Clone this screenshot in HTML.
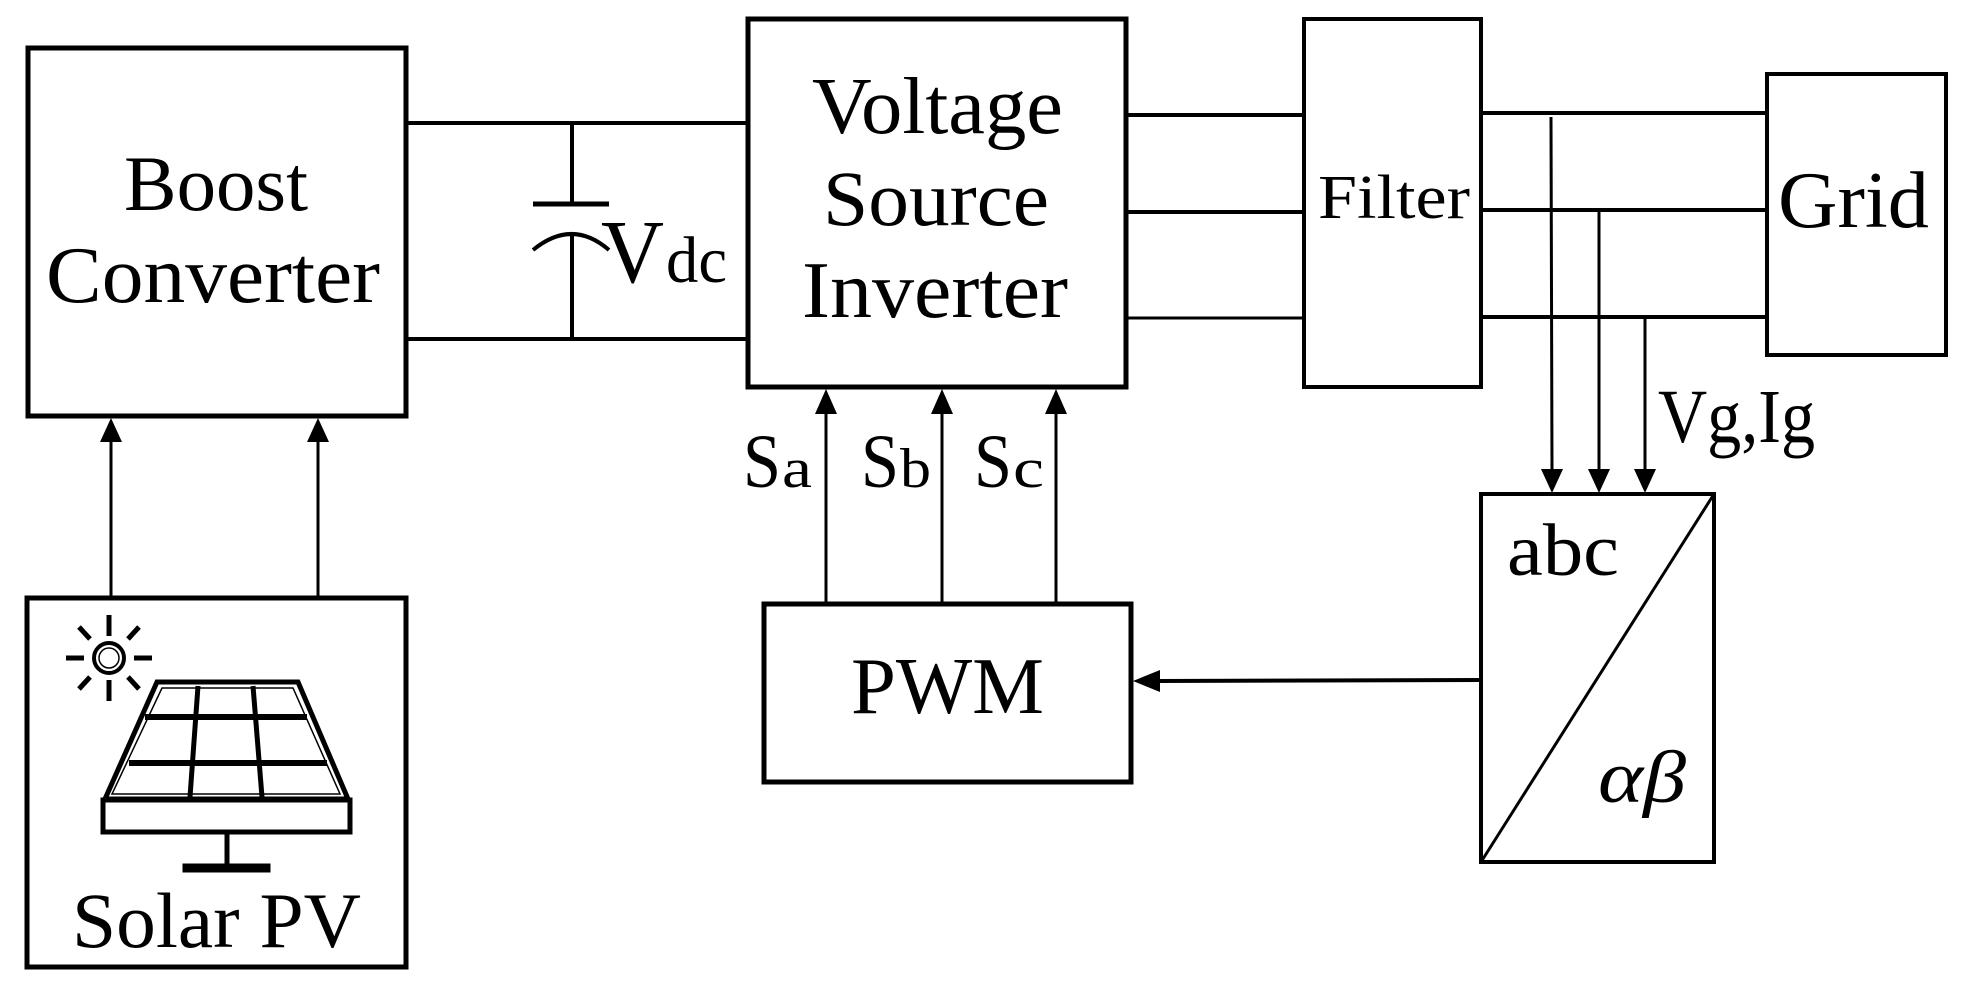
<!DOCTYPE html>
<html><head><meta charset="utf-8"><style>
html,body{margin:0;padding:0;background:#fff;}
svg{display:block;}
text{font-family:"Liberation Serif",serif;fill:#000;}
</style></head><body>
<svg width="1972" height="993" viewBox="0 0 1972 993" xmlns="http://www.w3.org/2000/svg">
<defs>
<marker id="ah" markerWidth="10" markerHeight="10" refX="10" refY="5" orient="auto" markerUnits="userSpaceOnUse"></marker>
</defs>
<g fill="none" stroke="#000">
<!-- boxes -->
<rect x="28" y="48" width="378" height="368" stroke-width="5"/>
<rect x="27" y="598" width="379" height="369" stroke-width="5"/>
<rect x="748" y="19" width="378" height="368" stroke-width="5"/>
<rect x="1304" y="19" width="177" height="368" stroke-width="4"/>
<rect x="1767" y="74" width="179" height="281" stroke-width="4"/>
<rect x="764" y="604" width="367" height="178" stroke-width="5"/>
<rect x="1481" y="494" width="233" height="368" stroke-width="4"/>
<line x1="1714" y1="494" x2="1481" y2="862" stroke-width="3"/>
<!-- DC bus -->
<line x1="406" y1="123" x2="748" y2="123" stroke-width="4"/>
<line x1="406" y1="339" x2="748" y2="339" stroke-width="4"/>
<line x1="572" y1="123" x2="572" y2="204" stroke-width="4"/>
<line x1="533" y1="204" x2="609" y2="204" stroke-width="5"/>
<path d="M533 250 Q572 218 609 250" stroke-width="4"/>
<line x1="572" y1="232" x2="572" y2="339" stroke-width="4"/>
<!-- VSI to filter -->
<line x1="1126" y1="115" x2="1304" y2="115" stroke-width="4"/>
<line x1="1126" y1="212" x2="1304" y2="212" stroke-width="4"/>
<line x1="1126" y1="318" x2="1304" y2="318" stroke-width="3"/>
<!-- filter to grid -->
<line x1="1481" y1="113" x2="1767" y2="113" stroke-width="4"/>
<line x1="1481" y1="210" x2="1767" y2="210" stroke-width="4"/>
<line x1="1481" y1="317" x2="1767" y2="317" stroke-width="4"/>
<!-- sense lines -->
<line x1="1551" y1="117" x2="1552" y2="472" stroke-width="3"/>
<line x1="1599" y1="212" x2="1599" y2="472" stroke-width="3"/>
<line x1="1645" y1="317" x2="1645" y2="472" stroke-width="3"/>
<!-- solar to boost -->
<line x1="111" y1="440" x2="111" y2="598" stroke-width="3"/>
<line x1="318" y1="440" x2="318" y2="598" stroke-width="3"/>
<!-- PWM to VSI -->
<line x1="826" y1="410" x2="826" y2="604" stroke-width="3"/>
<line x1="942" y1="410" x2="942" y2="604" stroke-width="3"/>
<line x1="1056" y1="410" x2="1056" y2="604" stroke-width="3"/>
<!-- transform to PWM -->
<line x1="1158" y1="681" x2="1481" y2="680" stroke-width="4"/>
</g>
<g fill="#000">
<polygon points="111,418 100,442 122,442"/>
<polygon points="318,418 307,442 329,442"/>
<polygon points="826,389 815,414 837,414"/>
<polygon points="942,389 931,414 953,414"/>
<polygon points="1056,389 1045,414 1067,414"/>
<polygon points="1552,493 1541,469 1563,469"/>
<polygon points="1599,493 1588,469 1610,469"/>
<polygon points="1645,493 1634,469 1656,469"/>
<polygon points="1133,681 1160,670 1160,692"/>
</g>
<!-- solar icon -->
<g stroke="#000" fill="none">
<ellipse cx="109" cy="658" rx="15" ry="15" stroke-width="4"/>
<ellipse cx="109" cy="658" rx="10" ry="10" stroke-width="1.5"/>
<g stroke-width="5">
<line x1="109" y1="615" x2="109" y2="636"/>
<line x1="109" y1="680" x2="109" y2="701"/>
<line x1="66" y1="658" x2="84" y2="658"/>
<line x1="134" y1="658" x2="152" y2="658"/>
<line x1="79" y1="627" x2="90" y2="639"/>
<line x1="139" y1="627" x2="128" y2="639"/>
<line x1="79" y1="689" x2="90" y2="677"/>
<line x1="139" y1="689" x2="128" y2="677"/>
</g>
<polygon points="157,682 298,682 348,799 105,799" stroke-width="5"/>
<polygon points="162,688 293,688 340,794 112,794" stroke-width="1.5"/>
<line x1="145" y1="717" x2="307" y2="717" stroke-width="6"/>
<line x1="129" y1="763" x2="327" y2="763" stroke-width="6"/>
<line x1="198" y1="686" x2="190" y2="797" stroke-width="5"/>
<line x1="253" y1="686" x2="262" y2="797" stroke-width="5"/>
<rect x="103" y="800" width="247" height="32" stroke-width="5"/>
<line x1="227" y1="832" x2="227" y2="866" stroke-width="5"/>
<rect x="183" y="864" width="87" height="8" fill="#000" stroke-width="1"/>
</g>
<!-- text -->
<text x="124" y="210" font-size="78" textLength="184" lengthAdjust="spacingAndGlyphs">Boost</text>
<text x="46" y="302" font-size="80" textLength="334" lengthAdjust="spacingAndGlyphs">Converter</text>
<text x="72" y="947" font-size="78" textLength="289" lengthAdjust="spacingAndGlyphs">Solar PV</text>
<text x="601" y="282" font-size="90" textLength="63" lengthAdjust="spacingAndGlyphs">V</text>
<text x="666" y="282" font-size="66" textLength="61" lengthAdjust="spacingAndGlyphs">dc</text>
<text x="812" y="133" font-size="80" textLength="251" lengthAdjust="spacingAndGlyphs">Voltage</text>
<text x="823" y="225" font-size="78" textLength="226" lengthAdjust="spacingAndGlyphs">Source</text>
<text x="802" y="317" font-size="80" textLength="266" lengthAdjust="spacingAndGlyphs">Inverter</text>
<text x="1318" y="218" font-size="62" textLength="152" lengthAdjust="spacingAndGlyphs">Filter</text>
<text x="1778" y="227" font-size="80" textLength="151" lengthAdjust="spacingAndGlyphs">Grid</text>
<text x="851" y="713" font-size="80" textLength="193" lengthAdjust="spacingAndGlyphs">PWM</text>
<text x="743" y="487" font-size="76" textLength="38" lengthAdjust="spacingAndGlyphs">S</text>
<text x="782" y="487" font-size="56" textLength="30" lengthAdjust="spacingAndGlyphs">a</text>
<text x="861" y="487" font-size="76" textLength="38" lengthAdjust="spacingAndGlyphs">S</text>
<text x="900" y="487" font-size="56" textLength="31" lengthAdjust="spacingAndGlyphs">b</text>
<text x="974" y="487" font-size="76" textLength="38" lengthAdjust="spacingAndGlyphs">S</text>
<text x="1013" y="487" font-size="56" textLength="31" lengthAdjust="spacingAndGlyphs">c</text>
<text x="1658" y="442" font-size="76" textLength="157" lengthAdjust="spacingAndGlyphs">Vg,Ig</text>
<text x="1507" y="575" font-size="74" textLength="112" lengthAdjust="spacingAndGlyphs">abc</text>
<text x="1598" y="802" font-size="74" font-style="italic" textLength="88" lengthAdjust="spacingAndGlyphs">αβ</text>
</svg>
</body></html>
